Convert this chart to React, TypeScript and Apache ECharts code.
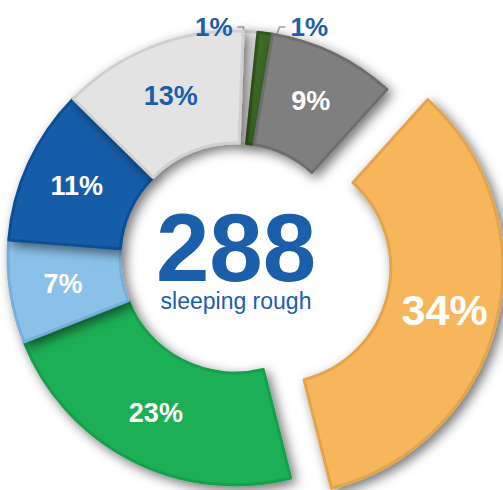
import React, { useEffect, useRef } from "react";
import * as echarts from "echarts";

const categories = ["Group A", "Group B", "Group C", "Group D", "Group E", "Group F", "Group G", "Group H"];
const values = [3, 3, 26, 99, 66, 21, 32, 38];
const fillColors = ["#F0F0F0", "#3C6A27", "#7F7F7F", "#F7B65B", "#1CAF57", "#8BC1E9", "#155DA9", "#E3E3E3"];
const borderColors = ["#CFCFCF", "#30571F", "#6E6E6E", "#E2A44E", "#17A04E", "#78AEDA", "#114F95", "#D0D0D0"];
const labelColors = ["#1B5EAA", "#1B5EAA", "#FFFFFF", "#FFFFFF", "#FFFFFF", "#FFFFFF", "#FFFFFF", "#1B5EAA"];
const centerCaption = "sleeping rough";

const CX = 235;
const CY = 258;
const R0 = 115;
const R1 = 227;
const START = 87.95;

export default function App() {
  const ref = useRef<HTMLDivElement>(null);
  useEffect(() => {
    if (!ref.current) return;
    const chart = echarts.init(ref.current, null, { renderer: "svg" });
    const total = values.reduce((a, b) => a + b, 0);
    const cum: number[] = [];
    let acc = 0;
    values.forEach((v) => {
      cum.push(acc);
      acc += v;
    });
    const smallIdx = values.map((v, i) => (v / total < 0.02 ? i : -1)).filter((i) => i >= 0);

    const data = values.map((v, i) => {
      const small = v / total < 0.02;
      const big = v / total > 0.3;
      const item: any = {
        name: categories[i],
        value: v,
        itemStyle: { color: fillColors[i], borderColor: borderColors[i] },
        select: { itemStyle: { color: fillColors[i], borderColor: borderColors[i], borderWidth: 3 } },
        label: {
          position: small ? "outside" : "inside",
          color: labelColors[i],
          fontSize: big ? 43 : small ? 26 : 27,
        },
        labelLine: { show: small },
      };
      if (big) item.selected = true;
      return item;
    });

    chart.setOption({
      animation: false,
      series: [
        {
          type: "pie",
          center: [CX, CY],
          radius: [R0, R1],
          startAngle: START,
          clockwise: true,
          avoidLabelOverlap: false,
          selectedMode: "single",
          selectedOffset: 42,
          emphasis: { disabled: true },
          itemStyle: {
            borderWidth: 3,
            shadowBlur: 12,
            shadowOffsetX: 4,
            shadowOffsetY: 4,
            shadowColor: "rgba(0,0,0,0.55)",
          },
          label: {
            show: true,
            fontFamily: "Liberation Sans, Arial, sans-serif",
            fontWeight: "bold",
            formatter: (p: any) => Math.round(p.percent) + "%",
          },
          labelLine: {
            lineStyle: { color: "#A3A3A3", width: 1.5 },
          },
          labelLayout: (p: any) => {
            const i = p.dataIndex;
            if (values[i] / total >= 0.02) return {};
            const midDeg = START - ((cum[i] + values[i] / 2) / total) * 360;
            const a = (midDeg * Math.PI) / 180;
            const rm = (R0 + R1) / 2 - 3;
            const ax = CX + rm * Math.cos(a);
            const ay = CY - rm * Math.sin(a);
            const ly = CY - R1 - 4;
            const leftSide = i === smallIdx[0];
            if (leftSide) {
              return {
                x: ax - 14,
                y: ly,
                align: "right",
                verticalAlign: "middle",
                labelLinePoints: [
                  [ax, ay],
                  [ax - 3, ly],
                  [ax - 9, ly],
                ],
              };
            }
            return {
              x: ax + 33,
              y: ly,
              align: "left",
              verticalAlign: "middle",
              labelLinePoints: [
                [ax, ay],
                [ax + 22, ly],
                [ax + 28, ly],
              ],
            };
          },
          data,
        },
      ],
      graphic: [
        {
          type: "text",
          x: CX + 1,
          y: CY - 11,
          style: {
            text: String(total),
            font: "bold 96px 'Liberation Sans', Arial, sans-serif",
            lineHeight: 74,
            fill: "#1B5EAA",
            align: "center",
            verticalAlign: "middle",
          },
        },
        {
          type: "text",
          x: CX + 1,
          y: CY + 43,
          style: {
            text: centerCaption,
            font: "23px 'Liberation Sans', Arial, sans-serif",
            lineHeight: 22,
            fill: "#1B5EAA",
            align: "center",
            verticalAlign: "middle",
          },
        },
      ],
    });
    return () => chart.dispose();
  }, []);
  return (
    <div
      ref={ref}
      style={{ position: "fixed", left: 0, top: 0, width: 503, height: 490, background: "#FFFFFF" }}
    />
  );
}
